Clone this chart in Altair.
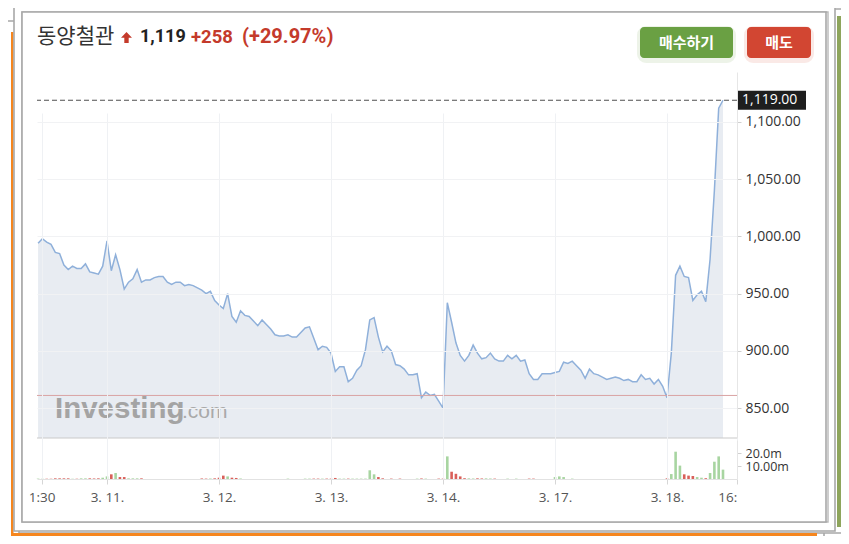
import altair as alt
import pandas as pd

# ---------------- data ----------------
stock_name = "동양철관"
last_price = 1119
prev_close = 861
change_abs_text = "+258"
change_pct_text = "(+29.97%)"
price_text = "1,119"

# 15-minute closes, bar index 0..159 (3/10 11:30 .. 3/18 midday)
prices = [
    994, 998, 995, 993, 986, 985, 975, 971, 974, 972,
    972, 976, 969, 968, 967, 974, 996, 970, 984, 971,
    954, 960, 963, 971, 960, 962, 962, 964, 965, 965,
    960, 958, 960, 960, 957, 958, 957, 955, 953, 950,
    952, 944, 940, 937, 950, 930, 925, 935, 931, 930,
    926, 922, 927, 923, 919, 914, 913, 913, 914, 912,
    912, 916, 920, 921, 911, 901, 904, 903, 898, 882,
    886, 886, 873, 876, 883, 887, 901, 927, 929, 912,
    899, 904, 900, 888, 887, 884, 879, 879, 880, 859,
    864, 861, 862, 856, 850, 942, 925, 907, 896, 891,
    896, 905, 898, 893, 894, 898, 893, 891, 891, 896,
    893, 896, 891, 892, 880, 875, 875, 880, 880, 880,
    881, 882, 890, 889, 891, 887, 883, 876, 884, 880,
    879, 877, 875, 876, 877, 876, 874, 875, 873, 873,
    879, 875, 876, 871, 875, 869, 859, 898, 966, 974,
    965, 964, 944, 949, 952, 943, 980, 1040, 1112, 1119,
]

# volume in millions of shares
volumes = [
    0.3, 0.2, 0.2, 0.2, 0.5, 0.5, 0.5, 0.5, 0.2, 0.2,
    0.5, 0.5, 0.5, 0.4, 0.5, 1.0, 2.0, 3.6, 4.6, 1.5,
    1.5, 0.5, 0.5, 0.5, 0.5, 0, 0, 0, 0, 0,
    0, 0, 0, 0, 0, 0, 0, 0, 0.4, 0.3,
    0.4, 0.5, 1.0, 2.6, 2.0, 1.0, 0.8, 0.4, 0, 0,
    0, 0, 0, 0, 0, 0, 0, 0, 0.3, 0,
    0, 0, 0.3, 0.3, 0.3, 0.3, 0.3, 0.3, 0.3, 0.8,
    0.3, 0.3, 0.3, 0.3, 0.3, 0.3, 0.3, 6.7, 3.6, 1.5,
    0.5, 0, 0.3, 0, 0.3, 0, 0, 0, 0.3, 0.4,
    0.3, 0, 0, 0.3, 0.3, 17.4, 5.6, 4.0, 2.0, 0.6,
    0.5, 0.4, 0.5, 0.4, 0.5, 0.4, 0.3, 0, 0, 0.3,
    0, 0.3, 0, 0, 0.3, 0.3, 0, 0, 0, 0,
    1.5, 2.0, 1.5, 0, 0.3, 0, 0, 0, 0, 0,
    0, 0, 0, 0, 0, 0, 0, 0, 0, 0,
    0, 0, 0, 0, 0, 0, 0.5, 3.8, 21.0, 10.3,
    3.6, 2.6, 2.3, 1.5, 1.0, 0.6, 4.6, 13.3, 17.4, 7.2,
]

x_tick_values = [0.8, 16, 42, 68, 94, 120, 146, 162.2]
x_tick_labels = ["1:30", "3. 11.", "3. 12.", "3. 13.", "3. 14.", "3. 17.", "3. 18.", "16:"]
price_ticks = [850, 900, 950, 1000, 1050, 1100]
vol_ticks = [10, 20]
vol_tick_labels = ["10.00m", "20.0m"]

X_DOMAIN = [-0.25, 162.25]
PRICE_DOMAIN = [823.8, 1143.7]
VOL_DOMAIN = [0, 30]

df = pd.DataFrame({"i": list(range(len(prices))), "price": prices, "vol": volumes})
one = pd.DataFrame({"k": [0]})
last_df = pd.DataFrame({"v": [last_price]})
prev_df = pd.DataFrame({"v": [prev_close]})
floor_df = pd.DataFrame({"v": [PRICE_DOMAIN[0]]})

LABEL_FONT = "Open Sans"
KR_FONT = "Noto Sans CJK KR"
NUM_FONT = "Roboto"

x_label_expr = " : ".join(
    f"datum.value == {v} ? '{l}'" for v, l in zip(x_tick_values, x_tick_labels)
) + " : ''"
vol_label_expr = " : ".join(
    f"datum.value == {v} ? '{l}'" for v, l in zip(vol_ticks, vol_tick_labels)
) + " : ''"

x_scale = alt.Scale(domain=X_DOMAIN, nice=False, zero=False, padding=0)
x_axis = alt.Axis(
    values=x_tick_values, labelExpr=x_label_expr, grid=True, gridColor="#eff1f4",
    domainColor="#e2e2e2", tickColor="#d6d6d6", tickSize=5, labelFlush=True,
    labelFontSize=13.5, labelColor="#555555", labelPadding=6, labelOverlap=False, zindex=1,
)
p_scale = alt.Scale(domain=PRICE_DOMAIN, range=[366, 0], nice=False, zero=False)
p_axis = alt.Axis(
    orient="right", values=price_ticks, format=",.2f", grid=True, gridColor="#f1f2f4",
    domainColor="#e6e6e6", tickColor="#d0d0d0", tickSize=4, labelPadding=4,
    labelFontSize=14, labelColor="#333333", labelOverlap=False, zindex=1,
)
v_scale = alt.Scale(domain=VOL_DOMAIN, range=[407, 368], nice=False)
v_axis = alt.Axis(
    orient="right", values=vol_ticks, labelExpr=vol_label_expr, grid=False,
    domainColor="#e6e6e6", tickColor="#d0d0d0", tickSize=4, labelPadding=4,
    labelFontSize=12.5, labelColor="#333333", labelOverlap=False, zindex=1,
)


def X(field="i:Q"):
    return alt.X(field, scale=x_scale, axis=x_axis, title=None)


def YP(field):
    return alt.Y(field, scale=p_scale, axis=p_axis, title=None)


base = alt.Chart(df)

area = base.mark_area(color="#e8ecf2").encode(x=X(), y=YP("price:Q"), y2=alt.datum(PRICE_DOMAIN[0]))
line = base.mark_line(color="#8fb0da", strokeWidth=1.5).encode(x=X(), y=YP("price:Q"))
floor_rule = alt.Chart(floor_df).mark_rule(color="#c9c9c9", strokeWidth=1.2).encode(y=YP("v:Q"))
prev_rule = alt.Chart(prev_df).mark_rule(color="#d9a3a3", strokeWidth=1).encode(y=YP("v:Q"))
last_rule = alt.Chart(last_df).mark_rule(color="#505050", strokeWidth=1.2, strokeDash=[5, 3]).encode(y=YP("v:Q"))
last_box = alt.Chart(last_df).mark_rect(color="#1e1e1e", yOffset=-9.5, y2Offset=9.5).encode(
    x=alt.value(700), x2=alt.value(769), y=YP("v:Q"), y2=alt.Y2("v:Q")
)
last_text = alt.Chart(last_df).mark_text(
    align="left", baseline="middle", dx=5, color="white", fontSize=14, font=LABEL_FONT
).encode(x=alt.value(700), y=YP("v:Q"), text=alt.Text("v:Q", format=",.2f"))

price_layer = alt.layer(area, line, floor_rule, prev_rule, last_rule, last_box, last_text)

vol_layer = base.transform_window(prev="lag(price)").transform_calculate(
    dir="datum.prev == null || datum.price >= datum.prev ? 'up' : 'down'"
).mark_bar(size=2.6).encode(
    x=X(),
    y=alt.Y("vol:Q", scale=v_scale, axis=v_axis, title=None),
    color=alt.Color("dir:N", scale=alt.Scale(domain=["up", "down"], range=["#a8d5a1", "#d9605a"]), legend=None),
)

chart_layer = alt.layer(price_layer, vol_layer).resolve_scale(y="independent")

# ---------------- decorations (stacked screenshot frames, header, buttons) ----------------
def frame(x, x2, y, y2, fill="white", stroke="#a8a8a8", sw=1.6):
    return alt.Chart(one).mark_rect(fill=fill, stroke=stroke, strokeWidth=sw).encode(
        x=alt.value(x), x2=alt.value(x2), y=alt.value(y), y2=alt.value(y2)
    )


def bar(x, x2, y, y2, color):
    return alt.Chart(one).mark_rect(color=color).encode(
        x=alt.value(x), x2=alt.value(x2), y=alt.value(y), y2=alt.value(y2)
    )


def label(txt, x, y, size, color, font=KR_FONT, weight="normal", align="left", baseline="middle", opacity=1):
    return alt.Chart(one).mark_text(
        text=txt, align=align, baseline=baseline, fontSize=size, color=color, font=font,
        fontWeight=weight, opacity=opacity,
    ).encode(x=alt.value(x), y=alt.value(y))


frames = [
    frame(-34, 787, -51, 465),
    frame(-18, 811, -63, 461),
    bar(800, 805, -56, 455, "#8ea55c"),
    bar(-26, -23.5, -40, 464, "#f5861f"),
    bar(-26, 780, 461, 464, "#f5861f"),
    frame(-23, 798, -67, 459),
    frame(-15, 791, -60, 450, stroke="#b8b8b8", sw=1.4),
    frame(-15, 789, -60, 450, stroke="#a8a8a8", sw=1.6),
]

watermark = [
    label("Investing", 18, 346, 29.5, "#a4a4a4", font="Liberation Sans", weight="bold", baseline="alphabetic"),
    label(".com", 145, 346, 21, "#a9a9a9", font="Liberation Sans", baseline="alphabetic"),
]

arrow = alt.Chart(one).mark_point(
    shape="M0,-1L1,0.05L0.4,0.05L0.4,1L-0.4,1L-0.4,0.05L-1,0.05Z",
    filled=True, size=120, color="#c43a2b", opacity=1,
).encode(x=alt.value(89.5), y=alt.value(-34.5))

header = [
    label(stock_name, 0, -35, 21, "#333333"),
    arrow,
    label(price_text, 103, -35, 18, "#222222", font=NUM_FONT, weight="bold"),
    label(change_abs_text, 154, -35, 18.5, "#c43a2b", font=NUM_FONT, weight="bold"),
    label(change_pct_text, 205, -35, 20, "#c43a2b", font=NUM_FONT, weight="bold"),
]

buttons = [
    alt.Chart(one).mark_rect(fill="none", stroke="#6aa043", strokeWidth=6, strokeOpacity=0.12, cornerRadius=6).encode(
        x=alt.value(603), x2=alt.value(696), y=alt.value(-43), y2=alt.value(-12)),
    alt.Chart(one).mark_rect(fill="#6aa043", cornerRadius=4).encode(
        x=alt.value(603), x2=alt.value(696), y=alt.value(-45), y2=alt.value(-14)),
    label("매수하기", 649.5, -29.5, 15, "white", weight="bold", align="center"),
    alt.Chart(one).mark_rect(fill="none", stroke="#d24632", strokeWidth=6, strokeOpacity=0.12, cornerRadius=6).encode(
        x=alt.value(710), x2=alt.value(774), y=alt.value(-43), y2=alt.value(-12)),
    alt.Chart(one).mark_rect(fill="#d24632", cornerRadius=4).encode(
        x=alt.value(710), x2=alt.value(774), y=alt.value(-45), y2=alt.value(-14)),
    label("매도", 742, -29.5, 15, "white", weight="bold", align="center"),
]

chart = alt.layer(
    *frames, chart_layer, *watermark, *header, *buttons
).resolve_scale(y="independent").properties(
    width=700,
    height=407,
    autosize=alt.AutoSizeParams(type="none"),
    padding={"left": 29, "top": 64, "right": 104, "bottom": 57},
    background="white",
).configure_view(strokeWidth=0).configure_axis(labelFont=LABEL_FONT)

chart.save("out.html", embed_options={"renderer": "svg", "actions": False})
